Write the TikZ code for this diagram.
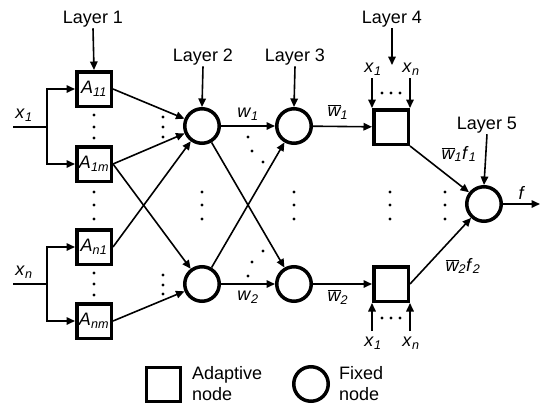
\documentclass[tikz,border=0pt]{standalone}
\usepackage{fontspec}
\setmainfont{Liberation Sans}
\usetikzlibrary{arrows.meta}
\newcommand\lab[2]{\textit{#1}\textsubscript{\textit{#2}}}
\newcommand\wb[1]{$\overline{\mbox{\itshape w}}$\textsubscript{\textit{#1}}}
\begin{document}
\begin{tikzpicture}[x=1pt,y=-1pt,
  font=\fontsize{18}{21}\selectfont,
  abox/.style={draw,line width=3.5pt,minimum size=34.5pt,inner sep=0pt},
  circ/.style={draw,circle,line width=3.5pt,minimum size=34.5pt,inner sep=0pt},
  arr/.style={line width=1.6pt,-{Triangle[length=8.5pt,width=7.5pt]}},
  ln/.style={line width=1.6pt},
  dt/.style={fill,circle,inner sep=0pt,minimum size=3.2pt},
  lbl/.style={inner sep=1pt}]
\useasboundingbox (0,0) rectangle (550,413);
% Layer 1
\node[abox] (A11) at (94,89) {\lab{A}{11}};
\node[abox] (A1m) at (94,164) {\lab{A}{1m}};
\node[abox] (An1) at (94,247) {\lab{A}{n1}};
\node[abox] (Anm) at (94,321) {\lab{A}{nm}};
% Layer 2-5
\node[circ] (C1) at (202,126) {};
\node[circ] (C2) at (202,284) {};
\node[circ] (C3) at (294,126) {};
\node[circ] (C4) at (294,284) {};
\node[abox] (B1) at (391,127) {};
\node[abox] (B2) at (391,284) {};
\node[circ] (C5) at (484,204) {};
% layer labels
\node[lbl] (L1) at (93,19) {Layer 1};
\node[lbl] (L2) at (203,57) {Layer 2};
\node[lbl] (L3) at (295,57) {Layer 3};
\node[lbl] (L4) at (392,19) {Layer 4};
\node[lbl] (L5) at (487,125) {Layer 5};
\coordinate (L4e) at (392,65);
\draw[arr] (L1.south) -- (A11.north);
\draw[arr] (L2.south) -- (C1.north);
\draw[arr] (L3.south) -- (C3.north);
\draw[arr] (L4.south) -- (L4e);
\draw[arr] (L5.south) -- (C5.north);
% inputs
\coordinate (x1s) at (13,127);
\coordinate (x1j) at (47,127);
\coordinate (xns) at (13,284);
\coordinate (xnj) at (47,284);
\node[lbl] (x1l) at (24,115) {\lab{x}{1}};
\node[lbl] (xnl) at (24,272) {\lab{x}{n}};
\draw[ln] (x1s) -- (x1j);
\draw[ln] (xns) -- (xnj);
\draw[arr] (x1j) |- (A11.west);
\draw[arr] (x1j) |- (A1m.west);
\draw[arr] (xnj) |- (An1.west);
\draw[arr] (xnj) |- (Anm.west);
% layer1 -> layer2
\draw[arr] (A11.east) -- (C1);
\draw[arr] (A1m.east) -- (C1);
\draw[arr] (A1m.east) -- (C2);
\draw[arr] (An1.east) -- (C1);
\draw[arr] (Anm.east) -- (C2);
% layer2 -> layer3
\draw[arr] (C1) -- (C3);
\draw[arr] (C1) -- (C4);
\draw[arr] (C2) -- (C3);
\draw[arr] (C2) -- (C4);
\node[lbl] (w1) at (248,114) {\lab{w}{1}};
\node[lbl] (w2) at (248,297) {\lab{w}{2}};
% layer3 -> layer4
\draw[arr] (C3) -- (B1);
\draw[arr] (C4) -- (B2);
\node[lbl] (wb1) at (338,112) {\wb{1}};
\node[lbl] (wb2) at (338,297) {\wb{2}};
% layer4 inputs
\coordinate (t1) at (372,78);
\coordinate (t2) at (410,78);
\coordinate (b1) at (372,331);
\coordinate (b2) at (410,331);
\node[lbl] (tx1) at (373,69) {\lab{x}{1}};
\node[lbl] (txn) at (411,69) {\lab{x}{n}};
\node[lbl] (bx1) at (373,343) {\lab{x}{1}};
\node[lbl] (bxn) at (411,343) {\lab{x}{n}};
\draw[arr] (t1) -- (B1.north west);
\draw[arr] (t2) -- (B1.north east);
\draw[arr] (b1) -- (B2.south west);
\draw[arr] (b2) -- (B2.south east);
% layer4 -> layer5
\draw[arr] (B1.south east) -- (C5);
\draw[arr] (B2.east) -- (C5);
\node[lbl] (wf1) at (459,154) {\wb{1}\textit{f}\textsubscript{\textit{1}}};
\node[lbl] (wf2) at (463,266) {\wb{2}\textit{f}\textsubscript{\textit{2}}};
\coordinate (fo) at (540,204);
\draw[arr] (C5) -- (fo);
\node[lbl] (fl) at (522,193) {\textit{f}};
% dots
\foreach \x/\y in {94/115,94/127,94/138, 94/192,94/205,94/219, 94/273,94/284,94/295,
  163/117,163/127,163/137, 163/275,163/285,163/294,
  202/192,202/205,202/219, 294/192,294/205,294/219,
  390/192,390/205,390/219, 445/192,445/205,445/219,
  248/137,252/151,263/162, 263/251,252/262,248/276,
  382/93,391/93,400/93, 382/318,391/318,400/318}
  \node[dt] at (\x,\y) {};
% legend
\node[abox,line width=3pt,minimum size=34pt] (LA) at (163,384) {};
\node[anchor=west,align=left,inner sep=0pt] (LAt) at (192,384) {Adaptive\\node};
\node[circ] (LF) at (311,384) {};
\node[anchor=west,align=left,inner sep=0pt] (LFt) at (339,384) {Fixed\\node};
\end{tikzpicture}
\end{document}
